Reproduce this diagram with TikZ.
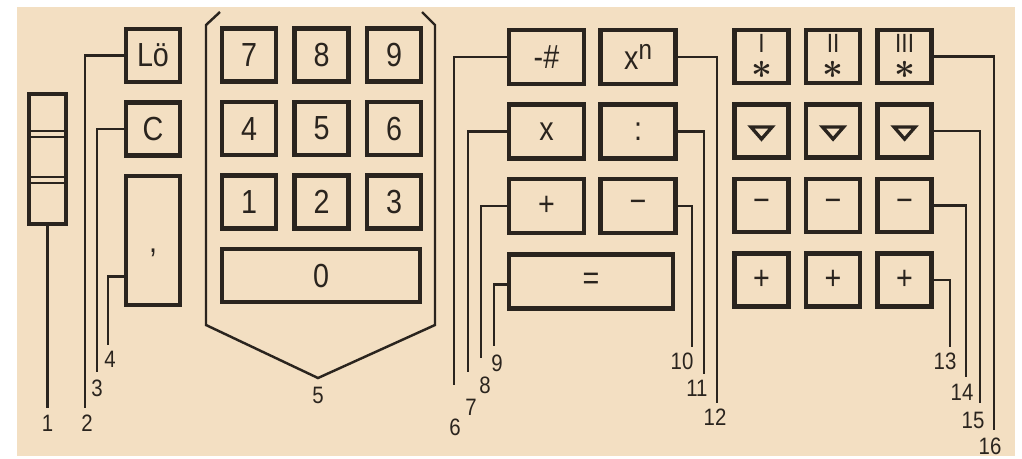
\documentclass[tikz,border=0pt]{standalone}
\usepackage{fontspec}
\setmainfont{Liberation Sans}[FakeStretch=0.86]
\usetikzlibrary{positioning}

\definecolor{paper}{RGB}{243,223,194}
\definecolor{ink}{RGB}{42,36,30}

\newcommand{\starkey}[1]{\smash{\makebox[0pt]{\raisebox{0.09cm}{\fontsize{15}{15}\selectfont #1}}\makebox[0pt]{\raisebox{-0.44cm}{\fontsize{22}{22}\selectfont\boldmath$\ast$}}}}

\begin{document}
\begin{tikzpicture}[
x=0.02cm, y=-0.02cm,
key/.style={draw=ink, line width=2.6pt, text=ink, minimum width=1.08cm, minimum height=1.06cm, inner sep=0pt, font=\fontsize{19}{21}\selectfont},
wide/.style={key, minimum width=1.5cm, minimum height=1.08cm},
lead/.style={draw=ink, line width=1.4pt},
tri/.style={draw=ink, line width=1.9pt, line join=miter},
num/.style={text=ink, inner sep=1pt, font=\fontsize{13.5}{15}\selectfont}
]

\useasboundingbox (0,0) rectangle (1022,458);
\fill[white] (0,0) rectangle (1022,458);
\fill[paper] (17,7) rectangle (1015,456);

\node[draw=ink, line width=2.2pt, minimum width=0.74cm, minimum height=2.6cm] (disp) at (47.5,159) {};
\draw[lead] (29,131) -- (66,131);
\draw[lead] (29,137) -- (66,137);
\draw[lead] (29,177) -- (66,177);
\draw[lead] (29,183) -- (66,183);

\node[key] (loe) at (153,55.5) {Lö};
\node[key, below=0.32cm of loe] (clr) {C};
\node[key, below=0.32cm of clr, minimum height=2.58cm] (comma) {\raisebox{-0.55cm}{,}};

\node[key] (k7) at (249,55) {7};
\node[key, right=0.28cm of k7] (k8) {8};
\node[key, right=0.28cm of k8] (k9) {9};
\node[key, below=0.32cm of k7] (k4) {4};
\node[key, right=0.28cm of k4] (k5) {5};
\node[key, right=0.28cm of k5] (k6) {6};
\node[key, below=0.32cm of k4] (k1) {1};
\node[key, right=0.28cm of k1] (k2) {2};
\node[key, right=0.28cm of k2] (k3) {3};
\node[key, below=0.32cm of k1.south west, anchor=north west, minimum width=3.96cm] (k0) {0};

\node[wide] (neg) at (546.5,57) {-\#};
\node[wide, right=0.24cm of neg] (pow) {x\raisebox{0.32em}{\fontsize{16}{16}\selectfont n}};
\node[wide, below=0.32cm of neg] (mul) {x};
\node[wide, right=0.24cm of mul] (dvd) {:};
\node[wide, below=0.32cm of mul] (add) {+};
\node[wide, right=0.24cm of add] (sub) {−};
\node[wide, below=0.34cm of add.south west, anchor=north west, minimum width=3.28cm] (eq) {=};

\node[key] (s1) at (761.5,56.5) {\starkey{I}};
\node[key, right=0.26cm of s1] (s2) {\starkey{II}};
\node[key, right=0.26cm of s2] (s3) {\starkey{III}};
\node[key, below=0.34cm of s1] (t1) {};
\node[key, right=0.26cm of t1] (t2) {};
\node[key, right=0.26cm of t2] (t3) {};
\node[key, below=0.34cm of t1] (m1) {−};
\node[key, right=0.26cm of m1] (m2) {−};
\node[key, right=0.26cm of m2] (m3) {−};
\node[key, below=0.34cm of m1] (p1) {+};
\node[key, right=0.26cm of p1] (p2) {+};
\node[key, right=0.26cm of p2] (p3) {+};

\foreach \k in {t1,t2,t3}
  \draw[tri] ([shift={(-0.21cm,0.08cm)}]\k.center) -- ([shift={(0.21cm,0.08cm)}]\k.center) -- ([shift={(0cm,-0.16cm)}]\k.center) -- cycle;

\coordinate (tip) at (318,378);
\draw[lead] (220,12) -- (206,25) -- (206,325) -- (tip) -- (435,325) -- (435,25) -- (422,12);

\coordinate (e1) at (47.5,408);
\coordinate (e2) at (85,408);
\coordinate (e3) at (97,372);
\coordinate (e4) at (108,345);
\coordinate (e6) at (454,385);
\coordinate (e7) at (468,372);
\coordinate (e8) at (481,358);
\coordinate (e9) at (494,346);
\coordinate (e10) at (692,347);
\coordinate (e11) at (704,374);
\coordinate (e12) at (717,403);
\coordinate (e13) at (950,347);
\coordinate (e14) at (966,377);
\coordinate (e15) at (980,403);
\coordinate (e16) at (994,430);

\node[num] (l1) at (47.5,423) {1};
\node[num] (l2) at (87,423) {2};
\node[num] (l3) at (97,388) {3};
\node[num] (l4) at (110,359) {4};
\node[num, below=0.15cm of tip] (l5) {5};
\node[num] (l6) at (455,427) {6};
\node[num] (l7) at (471,407) {7};
\node[num] (l8) at (485,385) {8};
\node[num] (l9) at (497,363) {9};
\node[num] (l10) at (682,361) {10};
\node[num] (l11) at (697,388) {11};
\node[num] (l12) at (715,417) {12};
\node[num] (l13) at (945,361) {13};
\node[num] (l14) at (962,392) {14};
\node[num] (l15) at (973,420) {15};
\node[num] (l16) at (990,446) {16};

\draw[lead] (disp.south) -- (e1);
\draw[lead] (loe.west) -| (e2);
\draw[lead] (clr.west) -| (e3);
\draw[lead] ([yshift=0.62cm]comma.south west) -| (e4);
\draw[lead] (neg.west) -| (e6);
\draw[lead] (mul.west) -| (e7);
\draw[lead] (add.west) -| (e8);
\draw[lead] ([yshift=-0.06cm]eq.west) -| (e9);
\draw[lead] (sub.east) -| (e10);
\draw[lead] (dvd.east) -| (e11);
\draw[lead] (pow.east) -| (e12);
\draw[lead] (p3.east) -| (e13);
\draw[lead] (m3.east) -| (e14);
\draw[lead] (t3.east) -| (e15);
\draw[lead] (s3.east) -| (e16);

\end{tikzpicture}
\end{document}
